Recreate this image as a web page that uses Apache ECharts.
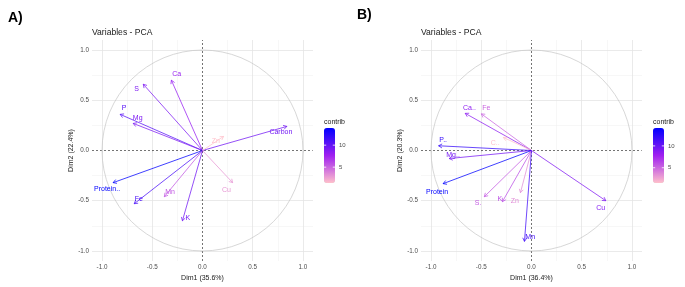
<!DOCTYPE html>
<html>
<head>
<meta charset="utf-8">
<script src="https://cdn.jsdelivr.net/npm/echarts@6/dist/echarts.min.js"></script>
<style>
  html, body { margin: 0; padding: 0; background: #fff; }
  #main { width: 685px; height: 287px; }
</style>
</head>
<body>
<div id="main"></div>
<script>
// axis ticks shared by both panels
const axisTicks = [-1, -0.5, 0, 0.5, 1];
const majorGrid = [-1, -0.5, 0.5, 1];
const minorGrid = [-0.75, -0.25, 0.25, 0.75];
const legendTicks = [5, 10];

// panel A
const varsA = ['Ca', 'S', 'P', 'Mg', 'Protein..', 'Fe', 'Mn', 'K', 'Cu', 'Carbon', 'Zn'];
const dim1A = [-0.31, -0.59, -0.82, -0.69, -0.89, -0.68, -0.38, -0.20, 0.30, 0.84, 0.21];
const dim2A = [0.70, 0.66, 0.36, 0.27, -0.32, -0.53, -0.46, -0.70, -0.32, 0.24, 0.14];
const contribA = [8.0, 9.0, 10.5, 9.0, 13.9, 11.0, 5.5, 9.5, 3.0, 9.5, 1.4];
const labelXA = [-0.256, -0.655, -0.78, -0.645, -0.95, -0.633, -0.323, -0.147, 0.239, 0.78, 0.133];
const labelYA = [0.756, 0.607, 0.418, 0.323, -0.388, -0.488, -0.415, -0.675, -0.39, 0.182, 0.095];

// panel B
const varsB = ['Ca..', 'Fe', 'C..', 'P..', 'Mg..', 'Protein', 'S.', 'K', 'Zn', 'Mn', 'Cu'];
const dim1B = [-0.66, -0.50, -0.28, -0.925, -0.82, -0.88, -0.47, -0.29, -0.11, -0.07, 0.74];
const dim2B = [0.37, 0.365, 0.13, 0.047, -0.08, -0.33, -0.46, -0.51, -0.42, -0.905, -0.50];
const contribB = [8.5, 5.0, 1.5, 12.0, 9.5, 14.1, 5.5, 6.0, 3.5, 11.5, 9.0];
const labelXB = [-0.618, -0.449, -0.361, -0.879, -0.781, -0.94, -0.532, -0.316, -0.165, -0.013, 0.689];
const labelYB = [0.42, 0.42, 0.072, 0.106, -0.043, -0.418, -0.527, -0.479, -0.507, -0.861, -0.572];

const FONT = '"Liberation Sans", Arial, sans-serif';
const gradientCols = ['#FFC0CB', '#A020F0', '#0000FF'];

const panels = [
  { tag: 'A)', tagX: 8, tagY: 18, left: 92, xName: 'Dim1 (35.6%)', yName: 'Dim2 (22.4%)',
    names: varsA, d1: dim1A, d2: dim2A, contrib: contribA, lx: labelXA, ly: labelYA, barLeft: 324 },
  { tag: 'B)', tagX: 357, tagY: 15, left: 421, xName: 'Dim1 (36.4%)', yName: 'Dim2 (20.3%)',
    names: varsB, d1: dim1B, d2: dim2B, contrib: contribB, lx: labelXB, ly: labelYB, barLeft: 653 }
];

const PANEL_TOP = 40, PANEL_SIZE = 221;
const BAR_TOP = 128, BAR_W = 11, BAR_H = 55;

function gridLineItems() {
  const items = [];
  minorGrid.forEach(v => {
    const ls = { color: '#efefef', width: 0.5, type: 'solid' };
    items.push({ xAxis: v, lineStyle: ls });
    items.push({ yAxis: v, lineStyle: ls });
  });
  majorGrid.forEach(v => {
    const ls = { color: '#e5e5e5', width: 0.8, type: 'solid' };
    items.push({ xAxis: v, lineStyle: ls });
    items.push({ yAxis: v, lineStyle: ls });
  });
  const dash = { color: '#3a3a3a', width: 0.7, type: [2, 2] };
  items.push({ xAxis: 0, lineStyle: dash });
  items.push({ yAxis: 0, lineStyle: dash });
  return items;
}

function makeArrow(p) {
  return function (params, api) {
    const k = params.dataIndex;
    const o = api.coord([0, 0]);
    const e = api.coord([api.value(0), api.value(1)]);
    const lp = api.coord([p.lx[k], p.ly[k]]);
    const color = api.visual('color');
    const ang = Math.atan2(e[1] - o[1], e[0] - o[0]);
    const L = 4, a = Math.PI / 6;
    const h1 = [e[0] - L * Math.cos(ang - a), e[1] - L * Math.sin(ang - a)];
    const h2 = [e[0] - L * Math.cos(ang + a), e[1] - L * Math.sin(ang + a)];
    return {
      type: 'group',
      children: [
        { type: 'line', shape: { x1: o[0], y1: o[1], x2: e[0], y2: e[1] },
          style: { stroke: color, lineWidth: 0.75 } },
        { type: 'polyline', shape: { points: [h1, e, h2] },
          style: { stroke: color, fill: 'none', lineWidth: 0.75 } },
        { type: 'text', x: lp[0], y: lp[1],
          style: { text: p.names[k], fill: color, font: '7px ' + FONT,
                   align: 'center', verticalAlign: 'middle' } }
      ]
    };
  };
}

function circleItem(params, api) {
  const c = api.coord([0, 0]);
  const r = api.size([1, 1]);
  return {
    type: 'circle',
    shape: { cx: c[0], cy: c[1], r: (r[0] + r[1]) / 2 },
    style: { stroke: '#c6c6c6', fill: 'none', lineWidth: 0.7 }
  };
}

const grids = [], xAxes = [], yAxes = [], series = [], visualMaps = [], graphics = [];

panels.forEach((p, i) => {
  grids.push({ left: p.left, top: PANEL_TOP, width: PANEL_SIZE, height: PANEL_SIZE, outerBoundsMode: 'none' });

  const common = {
    type: 'value', gridIndex: i, min: -1.1, max: 1.1,
    splitLine: { show: false }, axisLine: { show: false },
    axisTick: { show: true, customValues: axisTicks, length: 2, lineStyle: { color: '#666', width: 0.6 } },
    axisLabel: { customValues: axisTicks, formatter: v => v.toFixed(1), fontSize: 6.3,
                 fontFamily: FONT, color: '#4d4d4d', margin: 3 },
    nameLocation: 'middle',
    nameTextStyle: { fontSize: 7, fontFamily: FONT, color: '#1a1a1a' }
  };
  xAxes.push(Object.assign({}, common, { name: p.xName, nameGap: 14 }));
  yAxes.push(Object.assign({}, common, { name: p.yName, nameGap: 17 }));

  // circle + grid lines
  series.push({
    type: 'custom', xAxisIndex: i, yAxisIndex: i, z: 5, silent: true,
    data: [[0, 0]], renderItem: circleItem,
    markLine: { silent: true, z: 1, symbol: ['none', 'none'], label: { show: false },
                animation: false, data: gridLineItems() }
  });

  // variable arrows
  series.push({
    type: 'custom', xAxisIndex: i, yAxisIndex: i, z: 10, silent: true,
    data: p.d1.map((x, k) => [x, p.d2[k], p.contrib[k]]),
    encode: { x: 0, y: 1 },
    renderItem: makeArrow(p)
  });

  const cMin = Math.min(...p.contrib), cMax = Math.max(...p.contrib);
  visualMaps.push({
    type: 'continuous', seriesIndex: series.length - 1, dimension: 2,
    min: cMin, max: cMax, inRange: { color: gradientCols },
    left: p.barLeft, top: BAR_TOP, itemWidth: BAR_W, itemHeight: BAR_H,
    calculable: false, padding: 0, hoverLink: false
  });

  graphics.push({ type: 'text', x: p.tagX, y: p.tagY,
    style: { text: p.tag, font: 'bold 14px ' + FONT, fill: '#000', verticalAlign: 'middle' } });
  graphics.push({ type: 'text', x: p.left, y: 33,
    style: { text: 'Variables - PCA', font: '8.6px ' + FONT, fill: '#1a1a1a', verticalAlign: 'middle' } });
  graphics.push({ type: 'text', x: p.barLeft, y: 122,
    style: { text: 'contrib', font: '7px ' + FONT, fill: '#1a1a1a', verticalAlign: 'middle' } });
  legendTicks.forEach(v => {
    const ty = BAR_TOP + (cMax - v) / (cMax - cMin) * BAR_H;
    graphics.push({ type: 'text', x: p.barLeft + BAR_W + 4, y: ty, z: 100,
      style: { text: String(v), font: '6px ' + FONT, fill: '#4d4d4d', verticalAlign: 'middle' } });
    graphics.push({ type: 'line', z: 100, shape: { x1: p.barLeft, y1: ty, x2: p.barLeft + 2.2, y2: ty },
      style: { stroke: '#fff', lineWidth: 0.8 } });
    graphics.push({ type: 'line', z: 100, shape: { x1: p.barLeft + BAR_W - 2.2, y1: ty, x2: p.barLeft + BAR_W, y2: ty },
      style: { stroke: '#fff', lineWidth: 0.8 } });
  });
});

const chart = echarts.init(document.getElementById('main'));
chart.setOption({
  animation: false,
  grid: grids,
  xAxis: xAxes,
  yAxis: yAxes,
  visualMap: visualMaps,
  series: series,
  graphic: graphics
});
</script>
</body>
</html>
